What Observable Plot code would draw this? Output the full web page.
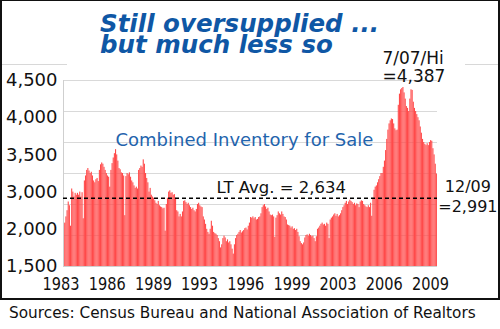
<!DOCTYPE html>
<html><head><meta charset="utf-8">
<script src="https://cdn.jsdelivr.net/npm/d3@7"></script>
<script src="https://cdn.jsdelivr.net/npm/@observablehq/plot@0.6"></script>
<style>
body{margin:0;background:#fff;}
#wrap{position:relative;width:500px;height:329px;overflow:hidden;font-family:"DejaVu Sans",Verdana,sans-serif;}
#chart{position:absolute;left:0;top:0;}
#frame{position:absolute;left:0;top:0;width:500px;height:300px;box-sizing:border-box;border:2px solid #111;border-top-width:1.5px;pointer-events:none;}
.title{position:absolute;left:100px;height:21px;font-weight:bold;font-style:italic;font-size:24.5px;line-height:21px;color:#0f57a5;white-space:nowrap;}
#caption{position:absolute;left:9px;top:304px;font-size:15.3px;line-height:18px;color:#111;white-space:nowrap;}
.gl{position:absolute;height:1px;background:#d8d8d8;top:64px;}
</style></head>
<body><div id="wrap"><div id="chart"></div>
<div class="gl" style="left:0;width:67px"></div><div class="gl" style="left:465px;width:35px"></div>
<div class="title" id="t1" style="top:13px"></div>
<div class="title" id="t2" style="top:34px"></div>
<div id="frame"></div>
<div id="caption"></div>
</div>
<script>
const titleLines = ["Still oversupplied ...", "but much less so"];
const captionText = "Sources: Census Bureau and National Association of Realtors";
const seriesLabel = "Combined Inventory for Sale";
const startYear = 1983;
// monthly combined inventory, Jan 1983 .. Dec 2009 (thousands), one row per year
const values = [
  2190, 2200, 2300, 2400, 2540, 2480, 2150, 2750, 2700, 2620, 2680, 2650, // 1983
  2680, 2650, 2700, 2620, 2690, 2270, 2880, 2960, 3050, 3080, 3040, 3000, // 1984
  3020, 2960, 2880, 2850, 2900, 2920, 2870, 3050, 3140, 3170, 3150, 3100, // 1985
  3050, 3000, 2960, 2940, 2780, 3050, 3160, 3250, 3320, 3385, 3300, 3200, // 1986
  3080, 3060, 3010, 3000, 2960, 2320, 2950, 3000, 2980, 3010, 2940, 2880, // 1987
  2850, 2800, 2760, 2780, 2750, 3050, 3080, 3120, 3100, 3220, 3150, 3000, // 1988
  2920, 2850, 2700, 2760, 2650, 2620, 2600, 2560, 2520, 2500, 2550, 2480, // 1989
  2460, 2450, 2430, 2440, 2070, 2500, 2600, 2700, 2720, 2680, 2690, 2650, // 1990
  2660, 2600, 2400, 2380, 2300, 2340, 2300, 2380, 2550, 2560, 2530, 2500, // 1991
  2520, 2480, 2450, 2420, 2440, 2400, 2380, 2420, 2500, 2520, 2480, 2460, // 1992
  2450, 2300, 2250, 2180, 2100, 2050, 2020, 2100, 2230, 2150, 2050, 2030, // 1993
  2020, 2000, 1950, 1900, 1800, 1850, 1950, 1990, 1960, 1900, 1930, 1880, // 1994
  1900, 1850, 1780, 1700, 1850, 1950, 2000, 2020, 2050, 2080, 2040, 2060, // 1995
  2080, 2110, 2120, 2090, 2150, 2200, 2290, 2280, 2300, 2270, 2290, 2250, // 1996
  2260, 2290, 2300, 2350, 2450, 2480, 2500, 2460, 2420, 2440, 2380, 2330, // 1997
  2320, 2330, 2300, 1970, 2280, 2320, 2380, 2350, 2330, 2380, 2340, 2300, // 1998
  2290, 2250, 2170, 2160, 2150, 2120, 2140, 2100, 2110, 2080, 2100, 2050, // 1999
  1980, 1900, 1870, 1850, 1880, 1960, 2000, 2010, 1990, 2020, 2000, 1980, // 2000
  1990, 1950, 1900, 1980, 2100, 2120, 2150, 2180, 2200, 2170, 2180, 2150, // 2001
  2200, 2180, 1950, 2250, 2280, 2300, 2330, 2350, 2310, 2340, 2300, 2320, // 2002
  2350, 2400, 2450, 2480, 2520, 2550, 2500, 2540, 2570, 2550, 2530, 2500, // 2003
  2520, 2480, 2510, 2500, 2450, 2540, 2560, 2550, 2500, 2480, 2460, 2450, // 2004
  2480, 2450, 2520, 2310, 2600, 2730, 2780, 2800, 2850, 2900, 2950, 3000, // 2005
  3000, 3100, 3200, 3370, 3550, 3700, 3800, 3850, 3880, 3870, 3800, 3720, // 2006
  3690, 3700, 4100, 4280, 4350, 4370, 4387, 4300, 4200, 4080, 4050, 4000, // 2007
  4200, 4350, 4340, 4150, 4050, 4000, 3950, 3900, 3850, 3750, 3650, 3550, // 2008
  3500, 3470, 3450, 3480, 3450, 3500, 3530, 3520, 3400, 3300, 3150, 2991  // 2009
];
const yTicks = [1500, 2100, 2700, 3300, 3900, 4500];
const yLabels = ["1,500", "2,000", "3,000", "3,500", "4,000", "4,500"];
const gridValues = [2000, 2500, 3000, 3500, 4000, 4500];
const xTicks = ["1983-01", "1986-05", "1989-09", "1993-01", "1996-05", "1999-09", "2003-01", "2006-05", "2009-09"];
const xLabels = ["1983", "1986", "1989", "1993", "1996", "1999", "2003", "2006", "2009"];
const ltAvgLine = 2600;
const ltAvgLabel = "LT Avg. = 2,634";
const peakMonth = "2007-07";
const peakValue = 4387;
const peakLabel = "7/07/Hi\n=4,387";
const lastMonth = "2009-12";
const lastValue = 2991;
const lastLabel = "12/09\n=2,991";
const barColor = "#ff4a4a";

const pad = n => String(n).padStart(2, "0");
const months = values.map((_, i) => `${startYear + Math.floor(i / 12)}-${pad(i % 12 + 1)}`);
const rows = values.map((v, i) => ({month: months[i], value: v}));
const yMap = new Map(yTicks.map((v, i) => [v, yLabels[i]]));
const xMap = new Map(xTicks.map((v, i) => [v, xLabels[i]]));

document.getElementById("t1").textContent = titleLines[0];
document.getElementById("t2").textContent = titleLines[1];
document.getElementById("caption").textContent = captionText;

const chart = Plot.plot({
  width: 500, height: 300,
  marginTop: 80, marginBottom: 34, marginLeft: 63, marginRight: 63,
  style: {fontFamily: '"DejaVu Sans", Verdana, sans-serif', background: "transparent", color: "#111"},
  x: {type: "band", domain: months, padding: 0.06},
  y: {domain: [1500, 4500]},
  marks: [
    Plot.gridY(gridValues, {stroke: "#d9d9d9", strokeOpacity: 1}),
    Plot.barY(rows, {x: "month", y1: 1500, y2: "value", fill: barColor}),
    Plot.frame({anchor: "left", stroke: "#cfcfcf"}),
    Plot.ruleY([1500], {stroke: "#cfcfcf"}),
    Plot.axisY(yTicks, {tickFormat: d => yMap.get(d), tickSize: 0, tickPadding: 6, fontSize: 18, label: null, fill: "#111"}),
    Plot.axisX(xTicks, {tickFormat: d => xMap.get(d), tickSize: 0, tickPadding: 11, fontSize: 18, dx: -3, label: null, fill: "#111"}),
    Plot.ruleY([ltAvgLine], {stroke: "#000", strokeWidth: 1.6, strokeDasharray: "4,3"}),
    Plot.text([seriesLabel], {frameAnchor: "top-left", dx: 52, dy: 65, lineAnchor: "bottom", textAnchor: "start", fontSize: 18, fill: "#1f64ad"}),
    Plot.text([{y: ltAvgLine, t: ltAvgLabel}], {y: "y", text: "t", frameAnchor: "left", dx: 153, dy: -5, lineAnchor: "bottom", textAnchor: "start", fontSize: 16.5, fill: "#111"}),
    Plot.text([{x: peakMonth, y: peakValue, t: peakLabel}], {x: "x", y: "y", text: "t", dx: -21, dy: -5.5, lineAnchor: "bottom", textAnchor: "start", fontSize: 17, lineHeight: 1.07, fill: "#111"}),
    Plot.text([{x: lastMonth, y: lastValue, t: lastLabel}], {x: "x", y: "y", text: "t", dx: 31, dy: 38, lineAnchor: "bottom", textAnchor: "middle", fontSize: 16, lineHeight: 1.24, fill: "#111"})
  ]
});
document.getElementById("chart").appendChild(chart);
d3.select(chart).selectAll('g[aria-label="x-axis tick label"] text')
  .attr("textLength", 37).attr("lengthAdjust", "spacingAndGlyphs");
</script>
</body></html>
